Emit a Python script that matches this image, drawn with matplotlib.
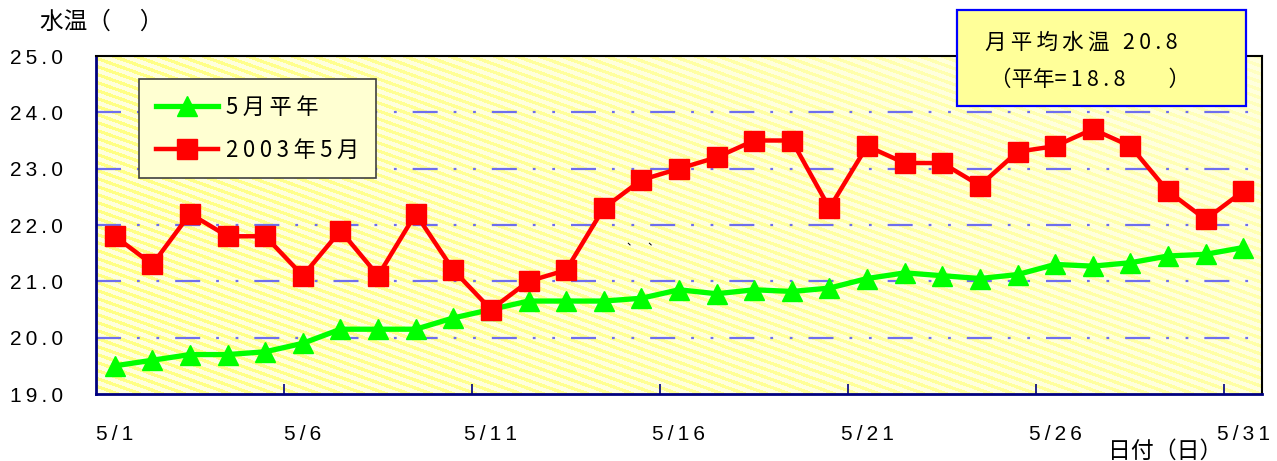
import numpy as np
import matplotlib
matplotlib.use('Agg')
import matplotlib.pyplot as plt
from matplotlib.patches import Rectangle

plt.rcParams['font.family'] = ['Noto Sans CJK JP', 'DejaVu Sans']
plt.rcParams['lines.scale_dashes'] = False

days = [f'5/{d}' for d in range(1, 32)]
normal = [19.5, 19.6, 19.7, 19.7, 19.75, 19.9, 20.15, 20.15, 20.15, 20.35,
          20.5, 20.65, 20.65, 20.65, 20.7, 20.85, 20.78, 20.85, 20.82, 20.88,
          21.05, 21.15, 21.1, 21.05, 21.12, 21.3, 21.27, 21.33, 21.45, 21.48,
          21.6]
may2003 = [21.8, 21.3, 22.2, 21.8, 21.8, 21.1, 21.9, 21.1, 22.2, 21.2,
           20.5, 21.0, 21.2, 22.3, 22.8, 23.0, 23.2, 23.5, 23.5, 22.3,
           23.4, 23.1, 23.1, 22.7, 23.3, 23.4, 23.7, 23.4, 22.6, 22.1,
           22.6]
yticks = [19.0, 20.0, 21.0, 22.0, 23.0, 24.0, 25.0]
label_days = [0, 5, 10, 15, 20, 25, 30]

TS = '\u2009'


def spaced(s):
    # wide letter spacing like the original chart
    return TS.join(s)


LAT = ['Liberation Sans', 'DejaVu Sans']

fig = plt.figure(figsize=(12.77, 4.61), dpi=100)
ax = fig.add_axes([96/1277, 67/461, 1166/1277, 338/461])

# striped yellow background
W, H = 1166, 338
cols = np.arange(W)[None, :]
rows = np.arange(H)[:, None]
phase = np.mod(rows - cols / 2.8, 8.0)
stripe = (phase < 3.5).astype(float)
fade = 1.0 - 0.7 * (cols / W) * (1 - rows / H * 0.5)
strength = stripe * fade * 0.75
bg = np.array([1.0, 1.0, 0.87])
fg = np.array([1.0, 1.0, 0.40])
img = bg[None, None, :] * (1 - strength[..., None]) + fg[None, None, :] * strength[..., None]
ax.imshow(img, extent=(0, 1, 0, 1), transform=ax.transAxes, aspect='auto',
          zorder=0, interpolation='nearest')

x = np.arange(len(days))
for yv in yticks[1:-1]:
    ax.axhline(yv, color='#6e6eee', lw=1.6, dashes=(18, 11.5, 2, 12, 2, 11.5), zorder=1)

ax.plot(x, normal, color='#00ff00', lw=3.8, marker='^', ms=15, label=spaced('5月平年'), zorder=3)
ax.plot(x, may2003, color='#ff0000', lw=3.2, marker='s', ms=15, label=spaced('2003年5月'), zorder=4)

ax.set_xlim(-0.5, 30.5)
ax.set_ylim(19, 25)
ax.set_yticks(yticks)
ax.set_yticklabels([spaced(f'{v:.1f}') for v in yticks], family=LAT, fontsize=15)
ax.tick_params(axis='y', length=0, pad=24)
ax.set_xticks(label_days)
ax.set_xticklabels([spaced(days[i]) for i in label_days], family=LAT, fontsize=15)
ax.set_xticks(np.arange(4.5, 31, 5), minor=True)
ax.tick_params(axis='x', which='major', length=0, pad=22)
ax.tick_params(axis='x', which='minor', direction='in', length=7, color='#000080', width=1.2)

for s in ['left', 'bottom']:
    ax.spines[s].set_color('#000080')
    ax.spines[s].set_linewidth(2)
for s in ['top', 'right']:
    ax.spines[s].set_color('black')
    ax.spines[s].set_linewidth(1.5)

leg = ax.legend(loc='upper left', bbox_to_anchor=(0.037, 0.932), borderaxespad=0,
                fontsize=16, handlelength=2.8, handletextpad=0.35, labelspacing=0.9,
                borderpad=0.75, fancybox=False, framealpha=1, facecolor='#ffffd2',
                edgecolor='#404040')
leg.get_frame().set_linewidth(1.2)
leg.set_zorder(5)

ax.text(0.455, 0.44, '、    、', transform=ax.transAxes, fontsize=8, zorder=5)

fig.text(40/1277, 1 - 22/461, '水温（　 ）', fontsize=17, va='center')
fig.text(1108/1277, 1 - 451/461, '日付（日）', fontsize=16.5, va='center')

fig.patches.append(Rectangle((957/1277, 1 - 106/461), 289/1277, 96/461,
                             transform=fig.transFigure, facecolor='#ffff99',
                             edgecolor='#0000ff', lw=1.6, zorder=6))
fig.text(985/1277, 1 - 43/461, spaced('月平均水温') + TS + ' ' + TS + spaced('20.8'),
         fontsize=15.5, va='center', zorder=7)
fig.text(990/1277, 1 - 80/461, '（平年' + spaced('=18.8') + '　　）',
         fontsize=15.5, va='center', zorder=7)

fig.savefig('out.png', dpi=100)
